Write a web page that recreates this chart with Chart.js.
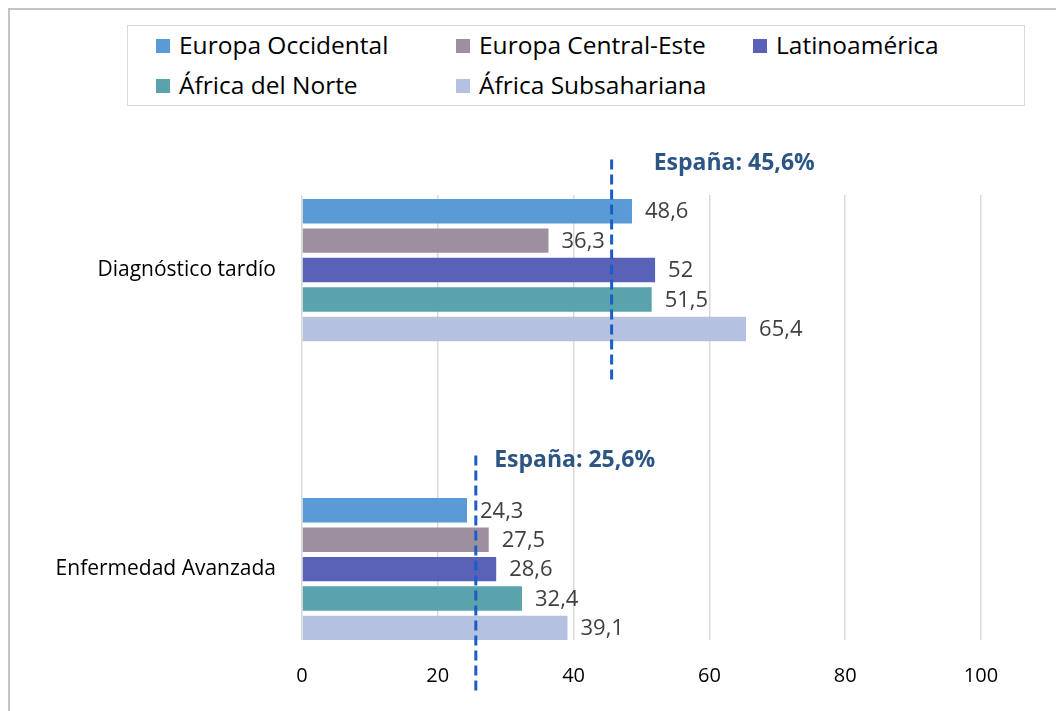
<!DOCTYPE html>
<html>
<head>
<meta charset="utf-8">
<script src="https://cdn.jsdelivr.net/npm/chart.js@4/dist/chart.umd.min.js"></script>
<style>
  html, body { margin: 0; padding: 0; background: #fff; }
  body { width: 1056px; height: 711px; position: relative; overflow: hidden; font-family: "Open Sans", sans-serif; }
  #frame { position: absolute; left: 8px; top: 8px; width: 1100px; height: 760px; border: 2px solid #c4c4c4; box-sizing: border-box; }
  #chart { position: absolute; left: 0; top: 0; }
  #legend {
    position: absolute; left: 127px; top: 25px; width: 898px; height: 81px;
    border: 1.5px solid #d9d9d9; box-sizing: border-box; background: #fff;
  }
  .item { position: absolute; font-size: 24.5px; color: #000; line-height: 28px; white-space: nowrap; }
  .item i { display: inline-block; width: 14px; height: 14px; margin-right: 9px; vertical-align: 1px; }
</style>
</head>
<body>
<div id="frame"></div>
<canvas id="chart" width="1056" height="711"></canvas>
<div id="legend"></div>
<script>
// datos
const categories = ['Diagnóstico tardío', 'Enfermedad Avanzada'];
const regions = ['Europa Occidental', 'Europa Central-Este', 'Latinoamérica', 'África del Norte', 'África Subsahariana'];
const europaOccidental = [48.6, 24.3];
const europaCentralEste = [36.3, 27.5];
const latinoamerica = [52, 28.6];
const africaNorte = [51.5, 32.4];
const africaSubsahariana = [65.4, 39.1];
const espana = [45.6, 25.6];
const xTicks = [0, 20, 40, 60, 80, 100];

const colors = ['#5b9bd5', '#9e8fa0', '#5a62b8', '#5aa3ac', '#b4c1e0'];
const series = [europaOccidental, europaCentralEste, latinoamerica, africaNorte, africaSubsahariana];
const FONT = '"Open Sans", sans-serif';

// leyenda (html)
const legendPos = [[28, 5], [328, 5], [625, 5], [28, 45], [328, 45]];
const legend = document.getElementById('legend');
regions.forEach((name, i) => {
  const div = document.createElement('div');
  div.className = 'item';
  div.style.left = legendPos[i][0] + 'px';
  div.style.top = legendPos[i][1] + 'px';
  div.innerHTML = `<i style="background:${colors[i]}"></i>${name}`;
  legend.appendChild(div);
});

// formato
const fmt = v => String(v).replace('.', ',');

// etiquetas de valor
const valueLabels = {
  id: 'valueLabels',
  afterDatasetsDraw(chart) {
    const ctx = chart.ctx;
    ctx.save();
    ctx.font = '22px ' + FONT;
    ctx.fillStyle = '#404040';
    ctx.textBaseline = 'middle';
    ctx.textAlign = 'left';
    chart.data.datasets.forEach((ds, i) => {
      chart.getDatasetMeta(i).data.forEach((bar, j) => {
        ctx.fillText(fmt(ds.data[j].x), bar.x + 13, bar.y + 1);
      });
    });
    ctx.restore();
  }
};

// líneas de España (extensión vertical en unidades de categoría)
const lineSpan = [[-0.37, 0.37], [-0.38, 0.42]];
const labelAt = [[51.8, -0.357], [28.3, -0.365]];
const spainLines = {
  id: 'spainLines',
  afterDatasetsDraw(chart) {
    const ctx = chart.ctx;
    const xs = chart.scales.x, ys = chart.scales.y;
    ctx.save();
    espana.forEach((v, i) => {
      const x = xs.getPixelForValue(v);
      ctx.strokeStyle = '#1a5cc8';
      ctx.lineWidth = 3;
      ctx.setLineDash([10, 5]);
      ctx.beginPath();
      ctx.moveTo(x, ys.getPixelForValue(i + lineSpan[i][0]));
      ctx.lineTo(x, ys.getPixelForValue(i + lineSpan[i][1]));
      ctx.stroke();
      ctx.setLineDash([]);
      ctx.font = 'bold 23px ' + FONT;
      ctx.fillStyle = '#2c5584';
      ctx.textBaseline = 'middle';
      ctx.fillText('España: ' + fmt(v) + '%', xs.getPixelForValue(labelAt[i][0]), ys.getPixelForValue(i + labelAt[i][1]));
    });
    ctx.restore();
  }
};

new Chart(document.getElementById('chart'), {
  type: 'bar',
  data: {
    datasets: series.map((s, i) => ({
      label: regions[i],
      data: s.map((v, j) => ({ x: v, y: j })),
      backgroundColor: colors[i],
      borderWidth: 0,
      categoryPercentage: 0.492,
      barPercentage: 0.83
    }))
  },
  options: {
    indexAxis: 'y',
    responsive: false,
    animation: false,
    layout: { padding: { top: 195, right: 75, bottom: 24, left: 0 } },
    plugins: { legend: { display: false }, tooltip: { enabled: false } },
    scales: {
      x: {
        min: 0, max: 100,
        afterBuildTicks: axis => { axis.ticks = xTicks.map(v => ({ value: v })); },
        afterFit: axis => { axis.height = 47; },
        grid: { color: '#d9d9d9', lineWidth: 1.5, drawTicks: false },
        border: { display: false },
        ticks: { color: '#000', padding: 24, maxRotation: 0, font: { size: 20, family: FONT } }
      },
      y: {
        type: 'linear',
        reverse: true,
        offset: false,
        min: -0.251, max: 1.237,
        afterBuildTicks: axis => { axis.ticks = categories.map((c, i) => ({ value: i })); },
        afterFit: axis => { axis.width = 302; },
        grid: { display: false },
        border: { display: false },
        ticks: {
          color: '#000', padding: 18,
          font: { size: 21, family: FONT },
          callback: v => categories[v]
        }
      }
    }
  },
  plugins: [valueLabels, spainLines]
});
</script>
</body>
</html>
